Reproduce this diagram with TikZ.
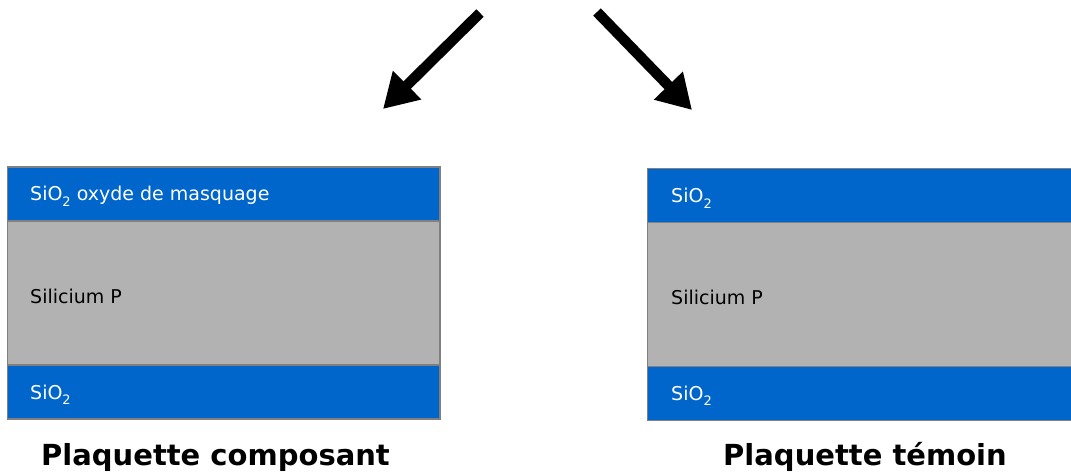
\documentclass[tikz,border=0pt]{standalone}
\usepackage{fontspec}
\setmainfont{DejaVu Sans}
\usetikzlibrary{arrows.meta}
\definecolor{oxblue}{HTML}{0066CC}
\definecolor{sigray}{HTML}{B2B2B2}
\definecolor{layeredge}{HTML}{808080}
\newcommand\subtwo{\raisebox{-0.55ex}{\fontsize{13}{13}\selectfont 2}}
\tikzset{
  layer/.style={draw=layeredge, line width=1.5pt, anchor=north west,
    inner sep=0pt, outer sep=0pt, minimum width=#1},
  oxide/.style={layer=#1, fill=oxblue, minimum height=54pt},
  silicon/.style={layer=#1, fill=sigray, minimum height=144pt},
  laytext/.style={anchor=base west, inner sep=0pt, font=\fontsize{19}{23}\selectfont},
  title/.style={anchor=base, inner sep=0pt, font=\fontsize{29}{34}\selectfont\bfseries},
  bigarrow/.style={line width=10.5pt, -{Triangle[length=34pt,width=38pt]}}
}
\begin{document}
\begin{tikzpicture}[x=1pt,y=-1pt]
  \useasboundingbox (0,0) rectangle (1071,473);
  % plaquette composant
  \node[oxide=432.5pt] (ctop) at (7.5,167) {};
  \node[silicon=432.5pt] (csi) at (7.5,221) {};
  \node[oxide=432.5pt] (cbot) at (7.5,365) {};
  \node[laytext, text=white] (ctoptxt) at (30,201) {SiO\subtwo{} oxyde de masquage};
  \node[laytext] (csitxt) at (30,303) {Silicium P};
  \node[laytext, text=white] (cbottxt) at (30,399) {SiO\subtwo};
  \node[title] (ctitle) at (215.5,465) {Plaquette composant};
  % plaquette temoin
  \node[oxide=440pt] (ttop) at (647.5,168.5) {};
  \node[silicon=440pt] (tsi) at (647.5,222.5) {};
  \node[oxide=440pt] (tbot) at (647.5,366.5) {};
  \node[laytext, text=white] (ttoptxt) at (671,203) {SiO\subtwo};
  \node[laytext] (tsitxt) at (671,304) {Silicium P};
  \node[laytext, text=white] (tbottxt) at (671,400) {SiO\subtwo};
  \node[title] (ttitle) at (865,465) {Plaquette témoin};
  % fleches
  \coordinate (lfrom) at (480,13);
  \coordinate (lto) at (383,109);
  \coordinate (rfrom) at (597,12);
  \coordinate (rto) at (692,110);
  \draw[bigarrow] (lfrom) -- (lto);
  \draw[bigarrow] (rfrom) -- (rto);
\end{tikzpicture}
\end{document}
